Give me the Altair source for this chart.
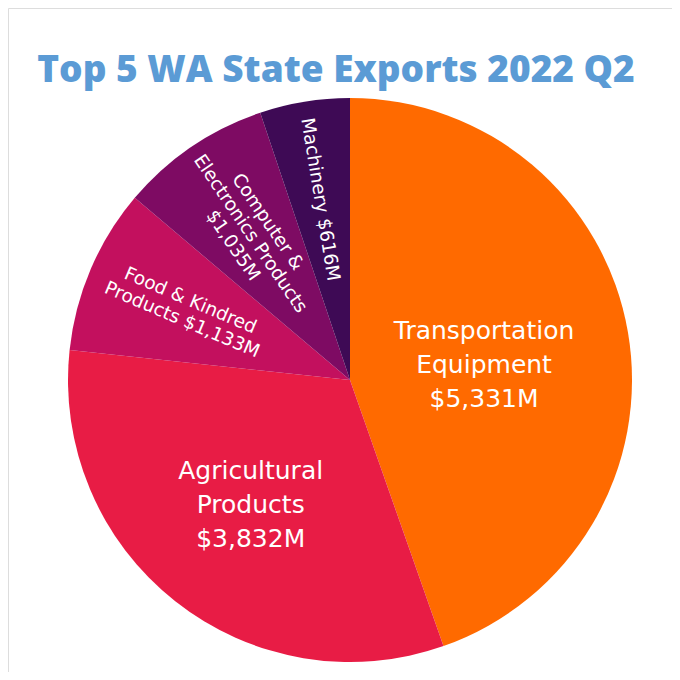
import math
import altair as alt
import pandas as pd

categories = ["Transportation Equipment", "Agricultural Products", "Food & Kindred Products",
              "Computer & Electronics Products", "Machinery"]
values = [5331, 3832, 1133, 1035, 616]
label_lines = [
    ["Transportation", "Equipment", "$5,331M"],
    ["Agricultural", "Products", "$3,832M"],
    ["Food & Kindred", "Products $1,133M"],
    ["Computer &", "Electronics Products", "$1,035M"],
    ["Machinery $616M"],
]
colors = ["#FF6A00", "#E81C45", "#C3105E", "#7E0B63", "#3E0A55"]

# label styling (not data)
label_radius = [136, 160, 178, 177, 183]
font_size = [25, 25, 18.5, 18.5, 18.5]
line_height = [34, 34, 21, 21, 21]
dy_adjust = [8, 0, 0, 0, 0]

total = sum(values)
cum = 0
rot = []
mid_rad = []
for v in values:
    mid = (cum + v / 2) / total * 360
    cum += v
    mid_rad.append(math.radians(mid))
    rot.append(0 if mid < 270 else mid - 270)

df = pd.DataFrame({
    "category": categories,
    "value": values,
    "order": list(range(len(values))),
    "label": ["\n".join(l) for l in label_lines],
    "r": label_radius,
    "rot": rot,
    "mid": mid_rad,
})

W, H = 664, 664
cx, cy = 342, 372

arcs = alt.Chart(df).mark_arc(outerRadius=282, stroke=None).encode(
    theta=alt.Theta("value:Q", stack=True),
    order=alt.Order("order:Q"),
    color=alt.Color("category:N", scale=alt.Scale(domain=categories, range=colors), legend=None),
    x=alt.value(cx), y=alt.value(cy),
)

layers = [arcs]
for i, lines in enumerate(label_lines):
    n = len(lines)
    lh = line_height[i]
    layers.append(
        alt.Chart(df).transform_filter(f"datum.order == {i}").mark_text(
            font="DejaVu Sans", fontSize=font_size[i], color="white", lineBreak="\n",
            lineHeight=lh, align="center", baseline="middle", dy=-(n - 1) * lh / 2 + dy_adjust[i]
        ).encode(
            text="label:N",
            theta=alt.Theta("mid:Q", scale=None, stack=False),
            radius=alt.Radius("r:Q", scale=None),
            angle=alt.Angle("rot:Q", scale=None),
            x=alt.value(cx), y=alt.value(cy),
        )
    )

title = alt.Chart(pd.DataFrame({"t": ["Top 5 WA State Exports 2022 Q2"]})).mark_text(
    font="Open Sans", fontWeight=800, fontSize=37, color="#5B9BD5", align="center", baseline="middle"
).encode(text="t:N", x=alt.value(328), y=alt.value(63))
layers.append(title)

chart = alt.layer(*layers).resolve_scale(theta="independent").properties(
    width=W, height=H, padding=0, autosize=alt.AutoSizeParams(type="none")
).configure_view(stroke=None).configure(background="white")

chart.save("out.html", embed_options={"renderer": "svg", "actions": False})
